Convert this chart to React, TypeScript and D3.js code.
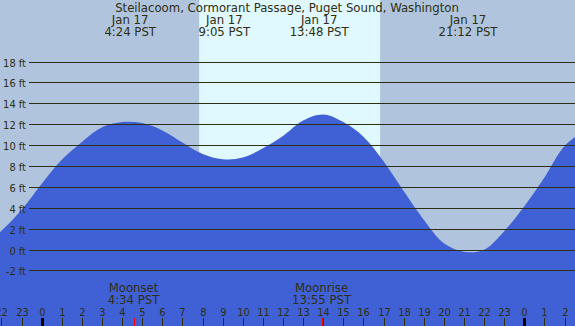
import { useEffect, useRef } from "react";
import * as d3 from "d3";

// hourly tide heights (ft), hour 0 = Jan 17 00:00 PST
const hours = [-3, -2, -1, 0, 1, 2, 3, 4, 5, 6, 7, 8, 9, 10, 11, 12, 13, 14, 15, 16, 17, 18, 19, 20, 21, 22, 23, 24, 25, 26, 27];
const heights = [0.3, 1.8, 3.8, 6.3, 8.6, 10.3, 11.7, 12.2, 12.1, 11.4, 10.25, 9.15, 8.65, 8.8, 9.7, 10.87, 12.35, 12.93, 12.2, 10.8, 8.45, 5.6, 2.85, 0.6, -0.22, -0.02, 1.75, 4.15, 6.9, 9.9, 11.4];

// highs and lows (label positions)
const extremeHours = [4.4, 9.083, 13.8, 21.2];
const extremeDates = ["Jan 17", "Jan 17", "Jan 17", "Jan 17"];
const extremeTimes = ["4:24 PST", "9:05 PST", "13:48 PST", "21:12 PST"];

const daylight = [7.83, 16.83];

const moonHours = [4.567, 13.917];
const moonNames = ["Moonset", "Moonrise"];
const moonTimes = ["4:34 PST", "13:55 PST"];

const yTicks = [-2, 0, 2, 4, 6, 8, 10, 12, 14, 16, 18];
const hourTicks = d3.range(-2, 27);

const title = "Steilacoom, Cormorant Passage, Puget Sound, Washington";

export default function App() {
  const svgRef = useRef<SVGSVGElement>(null);

  useEffect(() => {
    document.body.style.margin = "0";
    if (!svgRef.current) return;

    const width = 575;
    const height = 326;
    const font = "'DejaVu Sans Condensed', 'DejaVu Sans', sans-serif";
    const ink = "#2e2e12";

    const svg = d3.select(svgRef.current);
    svg.selectAll("*").remove();

    const x = d3.scaleLinear().domain([0, 24]).range([41.7, 524.3]);
    const y = d3.scaleLinear().domain([0, 18]).range([249.5, 61.5]);

    svg.append("rect").attr("width", width).attr("height", height).attr("fill", "#b0c4de");

    svg
      .append("rect")
      .attr("x", x(daylight[0]))
      .attr("y", 0)
      .attr("width", x(daylight[1]) - x(daylight[0]))
      .attr("height", height)
      .attr("fill", "#e0f8ff");

    const pts = hours.map((h, i) => ({ t: h, v: heights[i] }));

    const area = d3
      .area<{ t: number; v: number }>()
      .x((d) => x(d.t))
      .y0(height)
      .y1((d) => y(d.v))
      .curve(d3.curveCatmullRom.alpha(0.5));

    svg.append("path").datum(pts).attr("d", area).attr("fill", "#4061d6");

    // grid
    yTicks.forEach((v) => {
      const yy = Math.round(y(v)) + 0.5;
      svg
        .append("line")
        .attr("x1", 29)
        .attr("x2", width)
        .attr("y1", yy)
        .attr("y2", yy)
        .attr("stroke", ink)
        .attr("stroke-width", 1.2);
      svg
        .append("text")
        .attr("x", 26)
        .attr("y", yy + 4)
        .attr("text-anchor", "end")
        .attr("font-family", font)
        .attr("font-size", 11)
        .attr("fill", ink)
        .text(`${v} ft`);
    });

    svg
      .append("text")
      .attr("x", 287)
      .attr("y", 12)
      .attr("text-anchor", "middle")
      .attr("font-family", font)
      .attr("font-size", 13)
      .attr("fill", ink)
      .text(title);

    extremeHours.forEach((h, i) => {
      svg
        .append("text")
        .attr("x", x(h))
        .attr("y", 24)
        .attr("text-anchor", "middle")
        .attr("font-family", font)
        .attr("font-size", 13)
        .attr("fill", ink)
        .text(extremeDates[i]);
      svg
        .append("text")
        .attr("x", x(h))
        .attr("y", 36)
        .attr("text-anchor", "middle")
        .attr("font-family", font)
        .attr("font-size", 13)
        .attr("fill", ink)
        .text(extremeTimes[i]);
    });

    moonHours.forEach((h, i) => {
      svg
        .append("text")
        .attr("x", x(h))
        .attr("y", 292)
        .attr("text-anchor", "middle")
        .attr("font-family", font)
        .attr("font-size", 13)
        .attr("fill", ink)
        .text(moonNames[i]);
      svg
        .append("text")
        .attr("x", x(h))
        .attr("y", 304)
        .attr("text-anchor", "middle")
        .attr("font-family", font)
        .attr("font-size", 13)
        .attr("fill", ink)
        .text(moonTimes[i]);
      svg
        .append("line")
        .attr("x1", Math.round(x(h)) + 0.5)
        .attr("x2", Math.round(x(h)) + 0.5)
        .attr("y1", 318)
        .attr("y2", height)
        .attr("stroke", "#ff0000")
        .attr("stroke-width", 1);
    });

    hourTicks.forEach((h) => {
      const xx = Math.round(x(h)) + 0.5;
      const midnight = h % 24 === 0;
      svg
        .append("line")
        .attr("x1", xx)
        .attr("x2", xx)
        .attr("y1", 318)
        .attr("y2", height)
        .attr("stroke", midnight ? "#000" : ink)
        .attr("stroke-width", midnight ? 3 : 1);
      svg
        .append("text")
        .attr("x", xx)
        .attr("y", 316)
        .attr("text-anchor", "middle")
        .attr("font-family", font)
        .attr("font-size", 11)
        .attr("fill", ink)
        .text(((h % 24) + 24) % 24);
    });
  }, []);

  return <svg ref={svgRef} width={575} height={326} style={{ display: "block" }} />;
}
